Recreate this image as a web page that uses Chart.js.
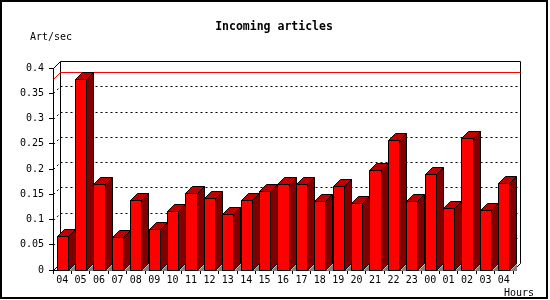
<!DOCTYPE html>
<html>
<head>
<meta charset="utf-8">
<script src="https://cdn.jsdelivr.net/npm/chart.js@4/dist/chart.umd.min.js"></script>
<style>
  body { margin: 0; background: #fff; }
  #wrap { width: 550px; height: 300px; }
</style>
</head>
<body>
<div id="wrap"><canvas id="c" width="550" height="300"></canvas></div>
<script>
// hours of the day (last 24h + current)
const hours = ['04', '05', '06', '07', '08', '09', '10', '11', '12', '13', '14', '15', '16',
               '17', '18', '19', '20', '21', '22', '23', '00', '01', '02', '03', '04'];
// articles per second
const rates = [0.067, 0.379, 0.171, 0.065, 0.139, 0.081, 0.117, 0.152, 0.143, 0.111, 0.139, 0.156, 0.170,
               0.170, 0.137, 0.166, 0.133, 0.198, 0.257, 0.137, 0.190, 0.123, 0.261, 0.119, 0.172];
const yMax = 0.4;
const yStep = 0.05;

const DEPTH = 7;
const mono = '"DejaVu Sans Mono", "Liberation Mono", monospace';

function seg(ctx, x1, y1, x2, y2) {
    ctx.beginPath();
    ctx.moveTo(x1, y1);
    ctx.lineTo(x2, y2);
    ctx.stroke();
}

function poly(ctx, pts, fill) {
    ctx.beginPath();
    pts.forEach((p, i) => i ? ctx.lineTo(p[0] + 0.5, p[1] + 0.5) : ctx.moveTo(p[0] + 0.5, p[1] + 0.5));
    ctx.closePath();
    ctx.fillStyle = fill;
    ctx.fill();
    ctx.stroke();
}

// back wall, dashed grid and the max line
const walls = {
    id: 'walls',
    beforeDatasetsDraw(chart) {
        const { ctx, chartArea: a, scales: { y } } = chart;
        const d = DEPTH;
        const L = Math.round(a.left) + 0.5, R = Math.round(a.right) + 0.5;
        const T = Math.round(a.top) + 0.5, B = Math.round(a.bottom) + 0.5;
        ctx.save();
        ctx.lineWidth = 1;
        ctx.strokeStyle = '#000';
        seg(ctx, L + d, T - d, R + d, T - d);
        seg(ctx, R + d, T - d, R + d, B - d);
        seg(ctx, L + d, T - d, L + d, B - d);
        seg(ctx, L, T, L + d, T - d);
        seg(ctx, R, B, R + d, B - d);
        seg(ctx, L, B, L + d, B - d);

        ctx.setLineDash([2, 3]);
        for (let v = yStep; v < yMax - 1e-9; v += yStep) {
            const py = Math.round(y.getPixelForValue(v)) + 0.5;
            seg(ctx, L + d, py - d, R + d, py - d);
            seg(ctx, L, py, L + d, py - d);
        }
        ctx.setLineDash([]);

        const mx = Math.max(...rates);
        const my = Math.round(y.getPixelForValue(mx)) + 0.5;
        ctx.strokeStyle = '#ff0000';
        seg(ctx, L + d, my - d, R + d, my - d);
        seg(ctx, L, my, L + d, my - d);
        ctx.restore();
    }
};

// draws the bars as boxes
const boxes = {
    id: 'boxes',
    beforeDatasetDraw(chart, args) {
        const { ctx } = chart;
        const ds = chart.data.datasets[args.index];
        const d = DEPTH;
        ctx.save();
        ctx.lineWidth = 1;
        ctx.strokeStyle = ds.borderColor;
        args.meta.data.forEach(bar => {
            const p = bar.getProps(['x', 'y', 'base', 'width'], true);
            const l = Math.round(p.x - p.width / 2), r = Math.round(p.x + p.width / 2);
            const t = Math.round(p.y), b = Math.round(p.base);
            ctx.beginPath();
            ctx.moveTo(r + 1, b + 1);
            ctx.lineTo(r + d + 1, b - d + 1);
            ctx.lineTo(r + d + 1, b + 1);
            ctx.closePath();
            ctx.fillStyle = '#808080';
            ctx.fill();
            poly(ctx, [[r, t], [r + d, t - d], [r + d, b - d], [r, b]], '#800000');
            poly(ctx, [[l, t], [l + d, t - d], [r + d, t - d], [r, t]], '#c00000');
            poly(ctx, [[l, t], [r, t], [r, b], [l, b]], ds.backgroundColor);
        });
        ctx.restore();
        return false;
    }
};

const labels = {
    id: 'labels',
    afterDraw(chart) {
        const { ctx } = chart;
        ctx.save();
        ctx.fillStyle = '#000';
        ctx.textBaseline = 'middle';
        ctx.font = 'bold 11.5px ' + mono;
        ctx.textAlign = 'center';
        ctx.fillText('Incoming articles', 274, 27);
        ctx.font = '10px ' + mono;
        ctx.textAlign = 'left';
        ctx.fillText('Art/sec', 30, 37);
        ctx.fillText('Hours', 504, 293);
        ctx.lineWidth = 2;
        ctx.strokeStyle = '#000';
        ctx.strokeRect(1, 1, 546, 297);
        ctx.restore();
    }
};

new Chart(document.getElementById('c'), {
    type: 'bar',
    data: {
        labels: hours,
        datasets: [{
            label: 'Art/sec',
            data: rates,
            backgroundColor: '#ff0000',
            borderColor: '#000000',
            borderWidth: 1,
            barPercentage: 0.6,
            categoryPercentage: 1
        }]
    },
    options: {
        responsive: false,
        animation: false,
        layout: { padding: { top: 68, right: 37, left: 0, bottom: 0 } },
        plugins: { legend: { display: false }, title: { display: false }, tooltip: { enabled: false } },
        scales: {
            x: {
                afterFit: s => { s.height = 30; },
                grid: { offset: true, drawOnChartArea: false, tickLength: 4, color: '#000' },
                border: { color: '#000' },
                ticks: {
                    color: '#000', padding: 0, autoSkip: false, maxRotation: 0,
                    font: { family: mono, size: 10 }
                }
            },
            y: {
                min: 0,
                max: yMax,
                afterFit: s => { s.width = 53; },
                grid: { drawOnChartArea: false, tickLength: 4, color: '#000' },
                border: { color: '#000' },
                ticks: {
                    stepSize: yStep, color: '#000', padding: 5,
                    font: { family: mono, size: 10 },
                    callback: v => String(+v.toFixed(2))
                }
            }
        }
    },
    plugins: [walls, boxes, labels]
});
</script>
</body>
</html>
